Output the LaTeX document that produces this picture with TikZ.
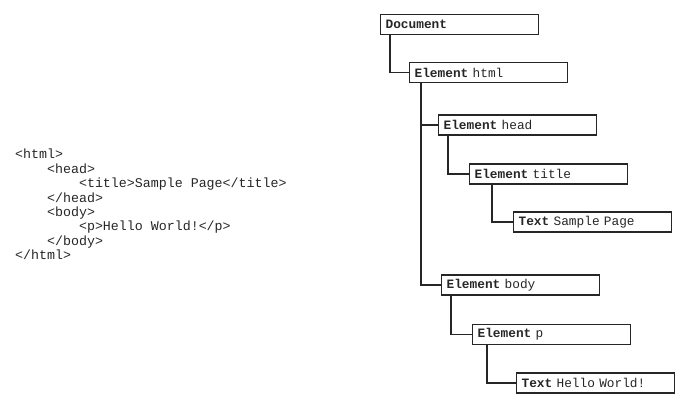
\documentclass[tikz,border=0pt]{standalone}
\usepackage{fontspec}
\setmonofont{Liberation Mono}
\usepackage{tikz}
\usetikzlibrary{calc}
\tikzset{n/.style={draw=black!85, line width=1.2pt, text width=148pt, inner xsep=5pt, inner ysep=0pt, minimum height=20pt, align=left, anchor=west, text=black!85, font=\ttfamily\fontsize{12.8}{14}\selectfont},
        e/.style={draw=black!85, line width=1.3pt}}

\begin{document}
\begin{tikzpicture}[x=1pt, y=-1pt]
    \useasboundingbox (0,0) rectangle (700,400);

    % source on the left
    \node[anchor=north west, inner sep=0pt, align=left, text=black!85, font=\ttfamily\fontsize{13.3}{14.4}\selectfont] (code) at (15,149) {%
      <html>\\
      \phantom{xxxx}<head>\\
      \phantom{xxxxxxxx}<title>Sample Page</title>\\
      \phantom{xxxx}</head>\\
      \phantom{xxxx}<body>\\
      \phantom{xxxxxxxx}<p>Hello World!</p>\\
      \phantom{xxxx}</body>\\
      </html>};

    % tree on the right
    \node[n] (doc)    at (380,24.5) {\textbf{Document}};
    \node[n] (html)   at (409,72.5) {\textbf{Element} html};
    \node[n] (head)   at (438,125)  {\textbf{Element} head};
    \node[n] (title)  at (469,174)  {\textbf{Element} title};
    \node[n] (sample) at (513,222)  {\textbf{Text} Sample Page};
    \node[n] (body)   at (441,285)  {\textbf{Element} body};
    \node[n] (p)      at (472,334.5){\textbf{Element} p};
    \node[n] (hello)  at (516,383)  {\textbf{Text} Hello World!};

    % parent to child links
    \foreach \a/\b/\s in {doc/html/10, html/head/12, html/body/12, head/title/10, title/sample/23, body/p/10, p/hello/15}
      \draw[e] ([xshift=\s pt]\a.south west) |- (\b.west);
\end{tikzpicture}
\end{document}
